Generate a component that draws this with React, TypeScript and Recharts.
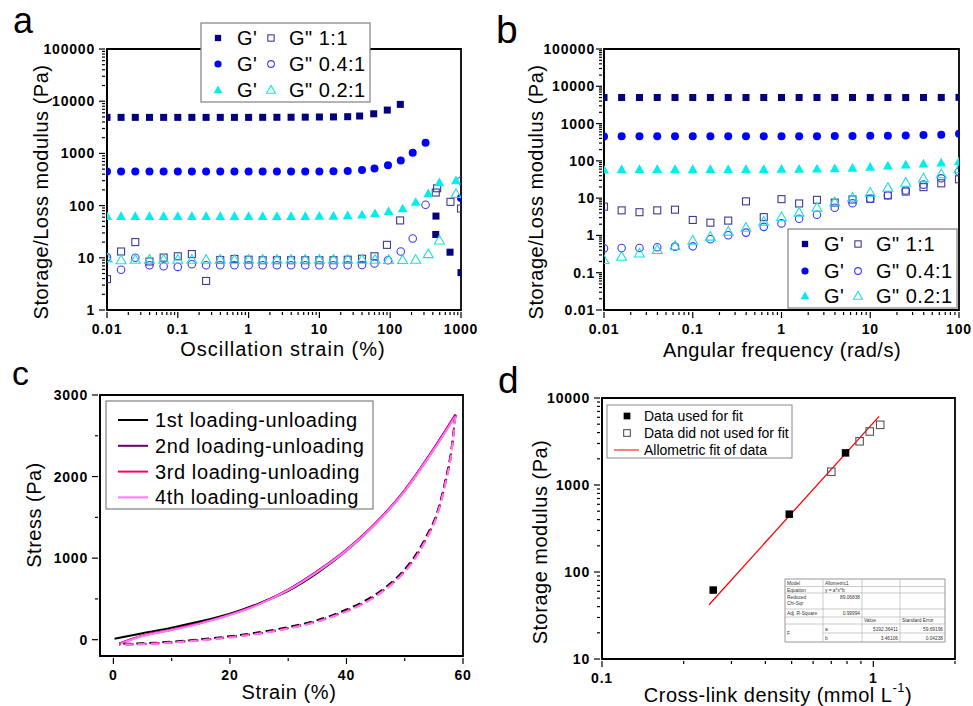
import { ComposedChart, Line, ReferenceArea, Scatter, ScatterChart, XAxis, YAxis } from "recharts"

type Pt = [number, number]
type Kind = "square" | "circle" | "triangle"

const W = 973
const H = 706
const FONT = "'Liberation Sans', Arial, Helvetica, sans-serif"

// ---- a: strain sweep ----
const strainMajor = [0.01, 0.1, 1, 10, 100, 1000]
const strainLabels = ["0.01", "0.1", "1", "10", "100", "1000"]
const modAMajor = [1, 10, 100, 1000, 10000, 100000]
const modALabels = ["1", "10", "100", "1000", "10000", "100000"]

const strainGrid = [0.01, 0.0158, 0.0251, 0.0398, 0.0631, 0.1, 0.158, 0.251, 0.398, 0.631, 1, 1.58, 2.51, 3.98, 6.31, 10, 15.8, 25.1]
const aStore11 = [4900, 4900, 4900, 4900, 4900, 4900, 4900, 4900, 4900, 4900, 4900, 4910, 4920, 4930, 4950, 4980, 5000, 5050]
const aStore11Tail: Pt[] = [[37, 5200], [58.5, 5740], [91, 6760], [139, 8690], [443, 63], [440, 28], [700, 12.8], [1000, 5.2]]
const aLoss11 = [3.9, 13.2, 20, 8.5, 10.1, 10.7, 11.8, 3.6, 9.1, 9.5, 9.2, 9, 9, 9, 9, 9, 9, 9.2]
const aLoss11Tail: Pt[] = [[40, 9.6], [60, 10.7], [90, 17.7], [138, 52], [440, 178], [460, 215], [710, 118], [1000, 88]]
const aStore04 = [450, 450, 450, 450, 450, 450, 450, 450, 450, 450, 450, 450, 450, 450, 450, 452, 455, 462]
const aStore04Tail: Pt[] = [[40, 480], [60, 515], [93, 595], [141, 735], [208, 1030], [316, 1600], [1000, 140]]
const aLoss04 = [10.2, 5.9, 10, 7.2, 6.9, 6.7, 7.5, 7.2, 7.2, 7.2, 7.2, 7.2, 7.2, 7.2, 7.2, 7.2, 7.2, 7.2]
const aLoss04Tail: Pt[] = [[40, 7.3], [60, 7.8], [93, 9], [141, 13.2], [208, 23.4], [316, 104], [1000, 300]]
const aStore02 = [62, 62, 62, 62, 62, 62, 62, 62, 62, 62, 62, 62, 62, 62, 62, 63, 63, 64]
const aStore02Tail: Pt[] = [[40, 66], [61, 70], [95, 77], [150, 87], [229, 116], [345, 170], [495, 275], [850, 300]]
const aLoss02 = [9.8, 9, 9.2, 9.2, 9.2, 9.2, 9.2, 9.2, 9.2, 9.2, 9.2, 9.2, 9.2, 9.2, 9.2, 9.2, 9.2, 9.2]
const aLoss02Tail: Pt[] = [[40, 9.2], [61, 9.2], [95, 9.1], [150, 9.1], [229, 9.2], [345, 11.8], [495, 21.5], [850, 168]]

// ---- b: frequency sweep ----
const freqMajor = [0.01, 0.1, 1, 10, 100]
const freqLabels = ["0.01", "0.1", "1", "10", "100"]
const modBMajor = [0.01, 0.1, 1, 10, 100, 1000, 10000, 100000]
const modBLabels = ["0.01", "0.1", "1", "10", "100", "1000", "10000", "100000"]

const freqGrid = [0.01, 0.0158, 0.0251, 0.0398, 0.0631, 0.1, 0.158, 0.251, 0.398, 0.631, 1, 1.58, 2.51, 3.98, 6.31, 10, 15.8, 25.1, 39.8, 63.1, 100]
const bStore11 = [5000, 5000, 5000, 5000, 5000, 5000, 5000, 5000, 5000, 5000, 5000, 5000, 5000, 5000, 5000, 5000, 5000, 5000, 5000, 5020, 5050]
const bLoss11 = [5.9, 4.7, 4.2, 4.7, 4.9, 2.6, 2.2, 2.5, 8.2, 3.1, 9.4, 7.2, 9, 7.6, 9.2, 9.6, 11.8, 15, 19.7, 25, 32]
const bStore04 = [450, 455, 455, 455, 455, 455, 455, 455, 455, 455, 455, 458, 460, 462, 465, 468, 472, 478, 490, 505, 530]
const bLoss04 = [0.45, 0.46, 0.46, 0.48, 0.5, 0.51, 0.79, 1.01, 1.19, 1.7, 2.1, 2.8, 3.6, 5.5, 7.3, 9.6, 12, 16, 23, 34, 51]
const bStore02 = [57, 58, 59, 59, 59, 59, 59, 59, 59, 59, 60, 60, 61, 62, 64, 68, 73, 78, 83, 88, 96]
const bLoss02 = [0.22, 0.27, 0.33, 0.41, 0.52, 0.73, 0.93, 1.27, 1.62, 2.35, 3.1, 4.1, 5.6, 7.8, 10.4, 14, 19, 26, 34, 44, 60]

// ---- c: loading / unloading cycles ----
const cStrainMajor = [0, 20, 40, 60]
const cStrainLabels = ["0", "20", "40", "60"]
const cStrainMinor = [10, 30, 50]
const cStressMajor = [0, 1000, 2000, 3000]
const cStressLabels = ["0", "1000", "2000", "3000"]
const cStressMinor = [500, 1500, 2500]

const loadStrain1 = [0.2, 5, 10, 15, 20, 25, 30, 35, 40, 45, 50, 55, 58.7]
const loadStrain = [1, 5, 10, 15, 20, 25, 30, 35, 40, 45, 50, 55, 58.7]
const load1 = [12, 80, 148, 225, 318, 445, 600, 820, 1090, 1420, 1825, 2335, 2750]
const load2 = [-45, 50, 125, 208, 310, 440, 615, 840, 1105, 1430, 1835, 2345, 2760]
const load3 = [-50, 48, 122, 205, 307, 437, 612, 838, 1102, 1428, 1832, 2340, 2755]
const load4 = [-55, 45, 118, 200, 303, 432, 607, 832, 1095, 1420, 1822, 2330, 2740]
const unloadStrain = [58.7, 58, 57, 55.7, 53.7, 51.7, 49.4, 46.5, 43, 40, 35, 30, 25, 20, 15, 10, 5, 1]
const unload1 = [2750, 2330, 1960, 1590, 1265, 1020, 815, 630, 470, 370, 240, 155, 90, 42, 5, -25, -45, -50]
const unload2 = [2760, 2300, 1935, 1570, 1245, 1000, 800, 615, 455, 355, 228, 142, 78, 33, -3, -32, -52, -58]
const unload3 = [2755, 2295, 1930, 1565, 1240, 995, 795, 610, 450, 350, 225, 140, 76, 31, -5, -34, -54, -60]
const unload4 = [2740, 2285, 1920, 1555, 1230, 985, 785, 605, 445, 345, 220, 136, 73, 28, -8, -36, -56, -60]
const cycleNames = ["1st loading-unloading", "2nd loading-unloading", "3rd loading-unloading", "4th loading-unloading"]
const cycleColors = ["#000000", "#660066", "#ff0066", "#ff77ff"]

// ---- d: modulus vs cross-link density ----
const densMajor = [0.1, 1]
const densLabels = ["0.1", "1"]
const densExtraMinor = [2]
const modDMajor = [10, 100, 1000, 10000]
const modDLabels = ["10", "100", "1000", "10000"]
const fitUsed: Pt[] = [[0.257, 62], [0.49, 462], [0.79, 2340]]
const fitUnused: Pt[] = [[0.7, 1420], [0.89, 3180], [0.97, 4120], [1.06, 4920]]
const fitLine: Pt[] = [[0.248, 42], [1.05, 6150]]

const toXY = (pts: Pt[]) => pts.map(([x, y]) => ({ x, y }))
const onGrid = (grid: number[], ys: number[], tail: Pt[] = []) =>
  grid.map((x, i) => ({ x, y: ys[i] })).concat(toXY(tail))

// minor ticks 2..9 in every decade
const withMinors = (decades: number[], extra: number[] = []) => {
  const out = [...decades, ...extra]
  for (let i = 0; i < decades.length - 1; i++)
    for (let m = 2; m <= 9; m++) out.push(+(decades[i] * m).toPrecision(6))
  return out.sort((p, q) => p - q)
}

const styles: { kind: Kind; filled: boolean; color: string; size: number }[] = [
  { kind: "square", filled: true, color: "#000080", size: 7 },
  { kind: "square", filled: false, color: "#3c3c96", size: 7 },
  { kind: "circle", filled: true, color: "#0000ff", size: 8 },
  { kind: "circle", filled: false, color: "#3a3aff", size: 7.5 },
  { kind: "triangle", filled: true, color: "#00eeee", size: 8.5 },
  { kind: "triangle", filled: false, color: "#1fdede", size: 8.5 },
]

const seriesA = [
  onGrid(strainGrid, aStore11, aStore11Tail),
  onGrid(strainGrid, aLoss11, aLoss11Tail),
  onGrid(strainGrid, aStore04, aStore04Tail),
  onGrid(strainGrid, aLoss04, aLoss04Tail),
  onGrid(strainGrid, aStore02, aStore02Tail),
  onGrid(strainGrid, aLoss02, aLoss02Tail),
]
const seriesB = [bStore11, bLoss11, bStore04, bLoss04, bStore02, bLoss02].map((ys) => onGrid(freqGrid, ys))

function Marker({ cx, cy, kind, filled, color, size }: { cx: number; cy: number; kind: Kind; filled: boolean; color: string; size: number }) {
  const fill = filled ? color : "none"
  const sw = filled ? 0 : 1.1
  const h = size / 2
  if (kind === "square") return <rect x={cx - h} y={cy - h} width={size} height={size} fill={fill} stroke={color} strokeWidth={sw} />
  if (kind === "circle") return <circle cx={cx} cy={cy} r={h} fill={fill} stroke={color} strokeWidth={sw} />
  const pts = `${cx},${cy - size * 0.6} ${cx - size * 0.58},${cy + size * 0.42} ${cx + size * 0.58},${cy + size * 0.42}`
  return <polygon points={pts} fill={fill} stroke={color} strokeWidth={sw} />
}

const tickText = { fontFamily: FONT, fontSize: 14, fontWeight: 700, letterSpacing: 0.8, fill: "#000" }
const axisLine = { stroke: "#000", strokeWidth: 1.8 }

const majorIndex = (majors: number[], v: number) => majors.findIndex((m) => Math.abs(m - v) <= Math.abs(m) * 1e-6)

const leftTick = (majors: number[], labels: string[], gap = 10) => (props: any) => {
  const { x, y, payload } = props
  const i = majorIndex(majors, payload.value)
  const len = i >= 0 ? 6 : 3
  return (
    <g>
      <line x1={x} x2={x - len} y1={y} y2={y} stroke="#000" strokeWidth={1.2} />
      {i >= 0 && (
        <text x={x - gap} y={y} textAnchor="end" dominantBaseline="central" style={tickText}>
          {labels[i]}
        </text>
      )}
    </g>
  )
}

const bottomTick = (majors: number[], labels: string[]) => (props: any) => {
  const { x, y, payload } = props
  const i = majorIndex(majors, payload.value)
  const len = i >= 0 ? 6 : 3
  return (
    <g>
      <line x1={x} x2={x} y1={y} y2={y + len} stroke="#000" strokeWidth={1.2} />
      {i >= 0 && (
        <text x={x} y={y + 16.5} textAnchor="middle" dominantBaseline="central" style={tickText}>
          {labels[i]}
        </text>
      )}
    </g>
  )
}

const abs = { position: "absolute" as const, left: 0, top: 0 }

function SweepChart({ series, margin, xDomain, yDomain, xMajor, xLabels, yMajor, yLabels, gap }: any) {
  return (
    <div style={abs}>
      <ScatterChart width={W} height={H} margin={margin}>
        <XAxis type="number" dataKey="x" scale="log" domain={xDomain} allowDataOverflow ticks={withMinors(xMajor)} interval={0}
          tickSize={0} tickLine={false} axisLine={axisLine} tick={bottomTick(xMajor, xLabels)} height={30} />
        <YAxis type="number" dataKey="y" scale="log" domain={yDomain} allowDataOverflow ticks={withMinors(yMajor)} interval={0}
          tickSize={0} tickLine={false} axisLine={axisLine} tick={leftTick(yMajor, yLabels, gap)} width={60} />
        <ReferenceArea x1={xDomain[0]} x2={xDomain[1]} y1={yDomain[0]} y2={yDomain[1]} fill="none" stroke="#000" strokeWidth={1.8} />
        {series.map((data: any[], i: number) => (
          <Scatter key={i} data={data} isAnimationActive={false}
            shape={(p: any) => <Marker cx={p.cx} cy={p.cy} {...styles[i]} />} />
        ))}
      </ScatterChart>
    </div>
  )
}

function GLegend({ x, y, rows }: { x: number; y: number; rows: number[] }) {
  const ratios = ["1:1", "0.4:1", "0.2:1"]
  return (
    <g>
      <rect x={x} y={y} width={169} height={79} fill="#fff" stroke="#808080" strokeWidth={1.2} />
      {ratios.map((r, i) => (
        <g key={r}>
          <Marker cx={x + 17} cy={y + rows[i]} {...styles[i * 2]} size={styles[i * 2].size * 0.9} />
          <text x={x + 36} y={y + rows[i]} dominantBaseline="central" fontSize={20} letterSpacing={0.5}>G'</text>
          <Marker cx={x + 70} cy={y + rows[i]} {...styles[i * 2 + 1]} size={styles[i * 2 + 1].size * 0.9} />
          <text x={x + 88} y={y + rows[i]} dominantBaseline="central" fontSize={20} letterSpacing={0.5}>{'G" ' + r}</text>
        </g>
      ))}
    </g>
  )
}

const tableLines = {
  cols: [785, 823, 862, 900, 945],
  rows: [579, 586.5, 593, 609, 617, 624, 642],
}

export default function App() {
  const cycles = [
    { load: loadStrain1.map((s, i) => ({ x: s, y: load1[i] })), unload: unloadStrain.map((s, i) => ({ x: s, y: unload1[i] })) },
    { load: loadStrain.map((s, i) => ({ x: s, y: load2[i] })), unload: unloadStrain.map((s, i) => ({ x: s, y: unload2[i] })) },
    { load: loadStrain.map((s, i) => ({ x: s, y: load3[i] })), unload: unloadStrain.map((s, i) => ({ x: s, y: unload3[i] })) },
    { load: loadStrain.map((s, i) => ({ x: s, y: load4[i] })), unload: unloadStrain.map((s, i) => ({ x: s, y: unload4[i] })) },
  ]

  return (
    <div style={{ position: "absolute", left: 0, top: 0, width: W, height: H, background: "#fff", fontFamily: FONT }}>
      {/* a */}
      <SweepChart series={seriesA} margin={{ top: 49, left: 47, right: 512, bottom: 366 }} xDomain={[0.01, 1000]} yDomain={[1, 100000]}
        xMajor={strainMajor} xLabels={strainLabels} yMajor={modAMajor} yLabels={modALabels} gap={10} />
      {/* b */}
      <SweepChart series={seriesB} margin={{ top: 49, left: 544, right: 14, bottom: 366 }} xDomain={[0.01, 100]} yDomain={[0.01, 100000]}
        xMajor={freqMajor} xLabels={freqLabels} yMajor={modBMajor} yLabels={modBLabels} gap={7} />

      {/* c */}
      <div style={abs}>
        <ComposedChart width={W} height={H} margin={{ top: 395, left: 40, right: 510, bottom: 20 }}>
          <XAxis type="number" dataKey="x" domain={[-2.3, 60]} allowDataOverflow ticks={[...cStrainMajor, ...cStrainMinor].sort((p, q) => p - q)}
            interval={0} tickSize={0} tickLine={false} axisLine={axisLine} tick={bottomTick(cStrainMajor, cStrainLabels)} height={30} />
          <YAxis type="number" dataKey="y" domain={[-200, 3000]} allowDataOverflow ticks={[...cStressMajor, ...cStressMinor].sort((p, q) => p - q)}
            interval={0} tickSize={0} tickLine={false} axisLine={axisLine} tick={leftTick(cStressMajor, cStressLabels, 10)} width={60} />
          <ReferenceArea x1={-2.3} x2={60} y1={-200} y2={3000} fill="none" stroke="#000" strokeWidth={1.8} />
          {cycles.map((c, i) => (
            <Line key={"l" + i} data={c.load} dataKey="y" type="monotone" stroke={cycleColors[i]} strokeWidth={2} dot={false} isAnimationActive={false} />
          ))}
          {cycles.map((c, i) => (
            <Line key={"u" + i} data={c.unload} dataKey="y" type="monotone" stroke={cycleColors[i]} strokeWidth={2} strokeDasharray="8 5"
              dot={false} isAnimationActive={false} />
          ))}
        </ComposedChart>
      </div>

      {/* d */}
      <div style={abs}>
        <ComposedChart width={W} height={H} margin={{ top: 398, left: 542, right: 18, bottom: 17 }}>
          <XAxis type="number" dataKey="x" scale="log" domain={[0.1, 2]} allowDataOverflow ticks={withMinors(densMajor, densExtraMinor)} interval={0}
            tickSize={0} tickLine={false} axisLine={axisLine} tick={bottomTick(densMajor, densLabels)} height={30} />
          <YAxis type="number" dataKey="y" scale="log" domain={[10, 10000]} allowDataOverflow ticks={withMinors(modDMajor)} interval={0}
            tickSize={0} tickLine={false} axisLine={axisLine} tick={leftTick(modDMajor, modDLabels, 10)} width={60} />
          <ReferenceArea x1={0.1} x2={2} y1={10} y2={10000} fill="none" stroke="#000" strokeWidth={1.8} />
          <Line data={toXY(fitLine)} dataKey="y" type="linear" stroke="#ff0000" strokeWidth={1.3} dot={false} isAnimationActive={false} />
          <Scatter data={toXY(fitUsed)} isAnimationActive={false}
            shape={(p: any) => <Marker cx={p.cx} cy={p.cy} kind="square" filled color="#000" size={7.5} />} />
          <Scatter data={toXY(fitUnused)} isAnimationActive={false}
            shape={(p: any) => <Marker cx={p.cx} cy={p.cy} kind="square" filled={false} color="#555" size={7.5} />} />
        </ComposedChart>
      </div>

      <svg width={W} height={H} style={abs} fontFamily={FONT} fill="#000">
        {/* panel letters */}
        <text x={13} y={33} fontSize={36}>a</text>
        <text x={496} y={43} fontSize={39}>b</text>
        <text x={12} y={385} fontSize={34}>c</text>
        <text x={498} y={393} fontSize={37}>d</text>

        {/* axis titles */}
        <text x={41} y={192} transform="rotate(-90 41 192)" textAnchor="middle" dominantBaseline="central" fontSize={20} letterSpacing={0.5}>
          Storage/Loss modulus (Pa)
        </text>
        <text x={283} y={349} textAnchor="middle" dominantBaseline="central" fontSize={20} letterSpacing={1}>Oscillation strain (%)</text>
        <text x={536} y={192} transform="rotate(-90 536 192)" textAnchor="middle" dominantBaseline="central" fontSize={20} letterSpacing={0.5}>
          Storage/Loss modulus (Pa)
        </text>
        <text x={782} y={350} textAnchor="middle" dominantBaseline="central" fontSize={20} letterSpacing={0.5}>Angular frequency (rad/s)</text>
        <text x={34} y={515} transform="rotate(-90 34 515)" textAnchor="middle" dominantBaseline="central" fontSize={20} letterSpacing={0.5}>
          Stress (Pa)
        </text>
        <text x={289} y={692} textAnchor="middle" dominantBaseline="central" fontSize={20} letterSpacing={0.6}>Strain (%)</text>
        <text x={540} y={542} transform="rotate(-90 540 542)" textAnchor="middle" dominantBaseline="central" fontSize={20} letterSpacing={0.5}>
          Storage modulus (Pa)
        </text>
        <text x={778} y={695} textAnchor="middle" dominantBaseline="central" fontSize={20} letterSpacing={0.5}>
          Cross-link density (mmol L<tspan dy={-8} fontSize={13}>-1</tspan><tspan dy={8}>)</tspan>
        </text>

        {/* legends a / b */}
        <GLegend x={201} y={23} rows={[15, 41, 67]} />
        <GLegend x={788} y={229} rows={[15, 42, 67]} />

        {/* legend c */}
        <rect x={106} y={401} width={267} height={108} fill="#fff" stroke="#808080" strokeWidth={1.2} />
        {cycleNames.map((n, i) => (
          <g key={n}>
            <line x1={118} x2={148} y1={420 + i * 25.8} y2={420 + i * 25.8} stroke={cycleColors[i]} strokeWidth={2} />
            <text x={155} y={420 + i * 25.8} dominantBaseline="central" fontSize={20} letterSpacing={0.6}>{n}</text>
          </g>
        ))}

        {/* legend d */}
        <rect x={607} y={405} width={185} height={53} fill="#fff" stroke="#888" strokeWidth={1} />
        <Marker cx={627} cy={416} kind="square" filled color="#000" size={6.7} />
        <text x={644} y={416} dominantBaseline="central" fontSize={14}>Data used for fit</text>
        <Marker cx={627} cy={433} kind="square" filled={false} color="#555" size={6.7} />
        <text x={644} y={433} dominantBaseline="central" fontSize={14}>Data did not used for fit</text>
        <line x1={614} x2={639} y1={450} y2={450} stroke="#ff0000" strokeWidth={1} />
        <text x={644} y={450} dominantBaseline="central" fontSize={14}>Allometric fit of data</text>

        {/* fit table */}
        <g fontSize={4.8} fill="#333">
          <rect x={785} y={579} width={160} height={63} fill="#fff" stroke="#999" strokeWidth={0.7} />
          {tableLines.rows.map((r) => (
            <line key={r} x1={785} x2={945} y1={r} y2={r} stroke="#aaa" strokeWidth={0.6} />
          ))}
          <line x1={823} x2={945} y1={633} y2={633} stroke="#aaa" strokeWidth={0.6} />
          {tableLines.cols.map((c) => (
            <line key={c} x1={c} x2={c} y1={579} y2={642} stroke="#aaa" strokeWidth={0.6} />
          ))}
          <text x={787} y={584.5}>Model</text>
          <text x={825} y={584.5}>Allometric1</text>
          <text x={787} y={591.5}>Equation</text>
          <text x={825} y={591.5}>y = a*x^b</text>
          <text x={787} y={598.5}>Reduced</text>
          <text x={787} y={605}>Chi-Sqr</text>
          <text x={860} y={598.5} textAnchor="end">89.06838</text>
          <text x={787} y={614.5}>Adj. R-Square</text>
          <text x={860} y={614.5} textAnchor="end">0.99994</text>
          <text x={864} y={622}>Value</text>
          <text x={902} y={622}>Standard Error</text>
          <text x={787} y={635}>F</text>
          <text x={825} y={630.5}>a</text>
          <text x={898} y={630.5} textAnchor="end">5192.36411</text>
          <text x={943} y={630.5} textAnchor="end">59.69196</text>
          <text x={825} y={639.5}>b</text>
          <text x={898} y={639.5} textAnchor="end">3.46106</text>
          <text x={943} y={639.5} textAnchor="end">0.04238</text>
        </g>
      </svg>
    </div>
  )
}
